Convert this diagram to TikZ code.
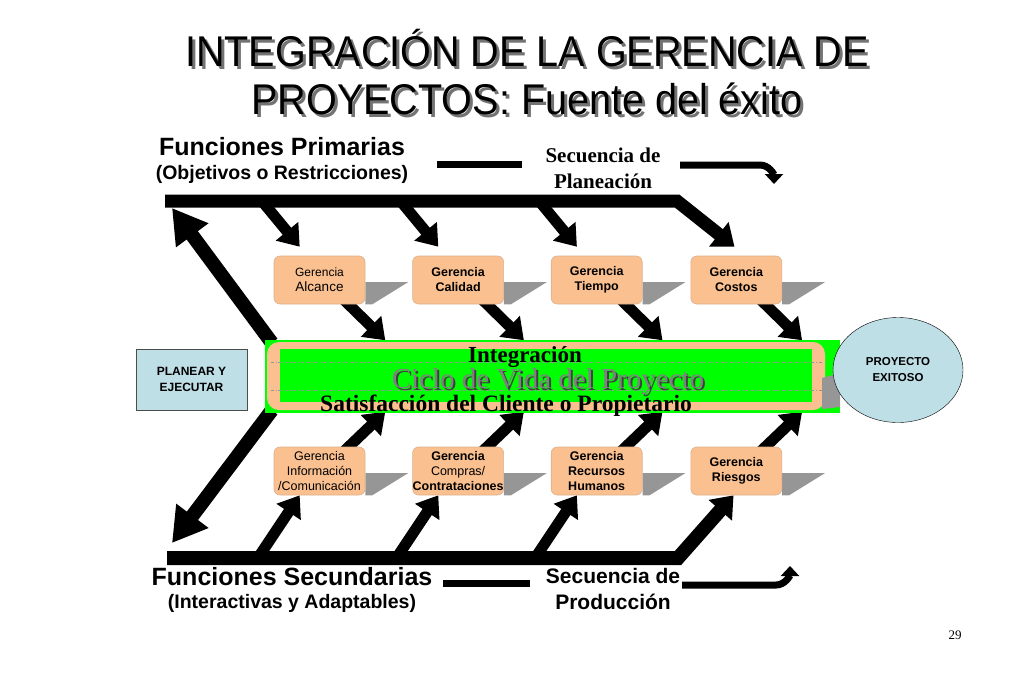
\documentclass[tikz,border=0pt]{standalone}
\usepackage{fontspec}
\setmainfont{Liberation Sans}
\newfontfamily\tnr{Liberation Serif}
\usetikzlibrary{arrows.meta, calc, positioning, shapes.geometric}
\definecolor{peach}{RGB}{250,192,144}
\definecolor{verde}{RGB}{0,255,0}
\definecolor{celeste}{RGB}{190,223,230}
\definecolor{sombra}{RGB}{150,150,150}
\pgfdeclarelayer{bg}
\pgfsetlayers{bg,main}
\newcommand{\sombraDe}[1]{\fill[sombra] ($(#1.east)+(0,2)$) -- ++(43,0) -- ($(#1.south east)+(7,0)$) -- (#1.south east) -- cycle;}
\newcommand{\angosto}[1]{\scalebox{0.92}[1]{#1}}

\begin{document}
\begin{tikzpicture}[x=1pt, y=-1pt,
    gbox/.style={draw=peach!75!gray, line width=0.6pt, fill=peach, rounded corners=6pt,
        minimum width=91pt, minimum height=48pt, inner sep=0pt, align=center,
        font=\fontsize{12.5}{15}\selectfont},
    gboxb/.style={gbox, font=\bfseries\fontsize{12.5}{15}\selectfont},
    branch/.style={line width=11pt, -{Triangle[length=20pt,width=28pt]}},
    spine/.style={line width=13pt, line join=miter, -{Triangle[length=20pt,width=30pt]}},
    big/.style={line width=14pt, -{Triangle[length=34pt,width=38pt]}},
    seq/.style={line width=7pt, line join=miter},
    heading/.style={font=\bfseries\fontsize{25}{30}\selectfont},
    sub/.style={font=\bfseries\fontsize{19.5}{24}\selectfont},
    titulo/.style={font=\fontsize{43}{48}\selectfont, anchor=base},
    ciclofont/.style={font=\tnr\fontsize{29}{30}\selectfont, anchor=base},
]
\useasboundingbox (0,0) rectangle (1024,683);

% titulo
\node[titulo, text=black!55] at (530,69) {\angosto{INTEGRACIÓN DE LA GERENCIA DE}};
\node[titulo, text=black!55] at (530,117) {\angosto{PROYECTOS: Fuente del éxito}};
\node[titulo] (tit1) at (527,66) {\angosto{INTEGRACIÓN DE LA GERENCIA DE}};
\node[titulo] (tit2) at (527,114) {\angosto{PROYECTOS: Fuente del éxito}};

\node[heading] (prim) at (282,147) {Funciones Primarias};
\node[sub] (objet) at (282,174) {(Objetivos o Restricciones)};
\node[heading] (secu) at (292,577) {Funciones Secundarias};
\node[sub] (inter) at (292,603) {(Interactivas y Adaptables)};

\node[font=\tnr\bfseries\fontsize{21}{26}\selectfont, align=center] (plan) at (603,168) {Secuencia de\\Planeación};
\node[font=\bfseries\fontsize{21}{26}\selectfont, align=center] (prod) at (613,589) {Secuencia de\\Producción};

% gerencias
\node[gbox] (alcance) at (319.5,280) {\fontsize{12}{15}\selectfont Gerencia\\\fontsize{13.5}{15}\selectfont Alcance};
\node[gboxb, right=47pt of alcance] (calidad) {Gerencia\\Calidad};
\node[gboxb, right=47pt of calidad] (tiempo) {Gerencia\\Tiempo};
\node[gboxb, right=48pt of tiempo] (costos) {Gerencia\\Costos};

\node[gbox] (info) at (319.5,471) {Gerencia\\Información\\/Comunicación};
\node[gbox, right=47pt of info] (compras) {\textbf{Gerencia}\\Compras/\\\textbf{Contrataciones}};
\node[gboxb, right=47pt of compras] (recursos) {Gerencia\\Recursos\\Humanos};
\node[gboxb, right=48pt of recursos] (riesgos) {Gerencia\\Riesgos};

% ciclo de vida
\node[fill=verde, minimum width=575pt, minimum height=73pt, inner sep=0pt] (ciclo) at (552.5,376.5) {};
\fill[peach, rounded corners=12pt] (267,342) rectangle (825,410);
\fill[verde] (280,349) rectangle (812,402);
\draw[sombra, dash dot] (271,362) -- (822,362);
\draw[sombra, dash dot] (271,390) -- (822,390);
\fill[sombra] (822,378) -- (840,373) -- (840,407) -- (822,409) -- cycle;
\node[font=\tnr\bfseries\fontsize{23}{26}\selectfont, anchor=base] (integ) at (525,362) {Integración};
\node[ciclofont, text=black!75] at (550,390) {Ciclo de Vida del Proyecto};
\node[ciclofont, text=black!50] (vida) at (548,388) {Ciclo de Vida del Proyecto};
\node[font=\tnr\bfseries\fontsize{23.5}{26}\selectfont, anchor=base] (satis) at (506,411) {Satisfacción del Cliente o Propietario};

\node[ellipse, draw, fill=celeste, minimum width=130pt, minimum height=105pt, inner sep=0pt,
    align=center, font=\bfseries\fontsize{11.5}{16}\selectfont] (exito) at (898,370) {PROYECTO\\EXITOSO};
\node[draw=black!70, line width=1pt, fill=celeste, minimum width=111pt, minimum height=61pt,
    align=center, font=\bfseries\fontsize{12}{16}\selectfont] (planear) at (191.5,379.5) {PLANEAR Y\\EJECUTAR};

\node[font=\tnr\fontsize{13}{15}\selectfont] (pag) at (955,635) {29};

\coordinate (topL) at (165,201);
\coordinate (topR) at (677,201);
\coordinate (botL) at (167,558);
\coordinate (botR) at (678,558);
\coordinate (arriba) at (172,208);
\coordinate (abajo) at (172,543);

\begin{pgfonlayer}{bg}
\foreach \g in {alcance, calidad, tiempo, costos, info, compras, recursos, riesgos}
    {\sombraDe{\g}}

\draw[spine] (topL) -- (topR) -- ($(costos.north west)+(44,-9)$);
\draw[spine, line width=14pt] (botL) -- (botR) -- ($(riesgos.south west)+(43,0)$);

\foreach \g in {alcance, calidad, tiempo}
    \draw[branch] ($(\g.north west)+(-12,-55)$) -- ($(\g.north west)+(26,-9)$);
\foreach \g in {info, compras, recursos}
    \draw[branch] ($(\g.south west)+(-16,63)$) -- ($(\g.south west)+(26,0)$);
\foreach \g in {alcance, calidad, tiempo, costos}
    \draw[branch] ($(\g.south east)+(-27,-10)$) -- ($(\g.south east)+(20,36)$);
\foreach \g in {info, compras, recursos, riesgos}
    \draw[branch] ($(\g.north east)+(-27,10)$) -- ($(\g.north east)+(20,-35)$);

\draw[big] ($(ciclo.north west)+(7,3)$) -- (arriba);
\draw[big] ($(ciclo.south west)+(7,-3)$) -- (abajo);
\end{pgfonlayer}

% secuencias
\coordinate (p1) at (437,164);
\coordinate (p2) at (522,164);
\coordinate (p3) at (680,165);
\coordinate (p4) at (760,165);
\coordinate (p5) at (774,184);
\draw[seq] (p1) -- (p2);
\draw[seq, -{Triangle[length=10pt,width=18pt]}] (p3) -- (p4) to[out=0, in=90] (p5);
\coordinate (q1) at (443,583);
\coordinate (q2) at (530,583);
\coordinate (q3) at (682,585);
\coordinate (q4) at (776,585);
\coordinate (q5) at (790,566);
\draw[seq] (q1) -- (q2);
\draw[seq, -{Triangle[length=10pt,width=18pt]}] (q3) -- (q4) to[out=0, in=-90] (q5);
\end{tikzpicture}
\end{document}
